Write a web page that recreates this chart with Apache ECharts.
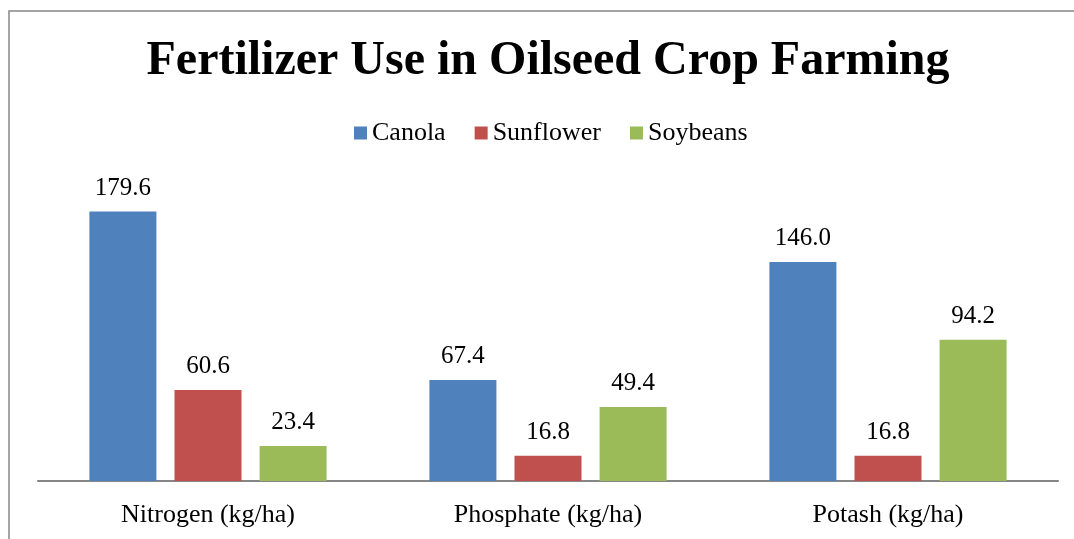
<!DOCTYPE html>
<html><head><meta charset="utf-8">
<script src="https://cdn.jsdelivr.net/npm/echarts@6/dist/echarts.min.js"></script>
<style>html,body{margin:0;padding:0;background:#fff}#c{width:1074px;height:539px}</style>
</head><body><div id="c"></div>
<script>
const categories = ['Nitrogen (kg/ha)', 'Phosphate (kg/ha)', 'Potash (kg/ha)'];
const canola = [179.6, 67.4, 146.0];
const sunflower = [60.6, 16.8, 16.8];
const soybeans = [23.4, 49.4, 94.2];
const FONT = '"Liberation Serif", "Times New Roman", serif';
const chart = echarts.init(document.getElementById('c'));
const lbl = {show: true, position: 'top', distance: 11, color: '#000', fontFamily: FONT, fontSize: 25, formatter: p => p.value.toFixed(1)};
chart.setOption({
  animation: false,
  graphic: [{type: 'rect', shape: {x: 9, y: 11, width: 1200, height: 700}, style: {fill: 'none', stroke: '#868686', lineWidth: 1.5}, z: -1}],
  title: {text: 'Fertilizer Use in Oilseed Crop Farming', left: 543, textAlign: 'center', top: 33, textStyle: {fontFamily: FONT, fontSize: 48, fontWeight: 'bold', color: '#000'}},
  legend: {top: 115, left: 349, itemWidth: 13, itemHeight: 13, itemGap: 29, icon: 'rect', textStyle: {fontFamily: FONT, fontSize: 26, color: '#000'}, data: ['Canola', 'Sunflower', 'Soybeans']},
  grid: {left: 38, right: 16, top: 181, bottom: 58},
  xAxis: {type: 'category', data: categories, axisLine: {lineStyle: {color: '#868686', width: 2}}, axisTick: {show: false}, axisLabel: {fontFamily: FONT, fontSize: 26, color: '#000', margin: 21}},
  yAxis: {type: 'value', min: 0, max: 200, show: false, splitLine: {show: false}},
  series: [
    {name: 'Canola', type: 'bar', data: canola, barWidth: 67, barGap: '27%', itemStyle: {color: '#4F81BD'}, label: lbl},
    {name: 'Sunflower', type: 'bar', data: sunflower, barWidth: 67, barGap: '27%', itemStyle: {color: '#C0504D'}, label: lbl},
    {name: 'Soybeans', type: 'bar', data: soybeans, barWidth: 67, barGap: '27%', itemStyle: {color: '#9BBB59'}, label: lbl}
  ]
});
</script></body></html>
